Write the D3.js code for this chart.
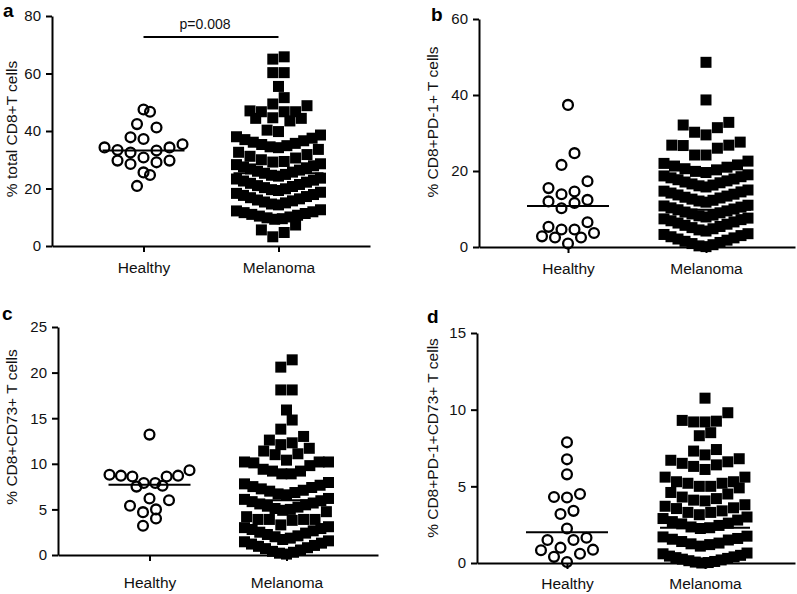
<!DOCTYPE html>
<html>
<head>
<meta charset="utf-8">
<script src="https://cdn.jsdelivr.net/npm/d3@7"></script>
<style>
  html, body { margin: 0; padding: 0; background: #fff; }
  svg { display: block; font-family: "Liberation Sans", Arial, Helvetica, sans-serif; }
</style>
</head>
<body>
<svg id="chart" width="797" height="594"></svg>
<script>
// ---------------- DATA ----------------
const categories = ["Healthy", "Melanoma"];

const aHealthy = [46.7, 47.5, 42.4, 41.2, 37.8, 37.2, 35.4, 34.3, 34.3, 33.4, 32.5, 33.2, 29.7, 29.1, 28.5, 29.7, 30.8, 25.6, 24.7, 20.9];
const aMelanoma = [65.0, 65.8, 60.3, 60.3, 55.5, 51.6, 49.4, 48.8, 47.0, 46.7, 46.7, 46.7, 44.6, 44.4, 44.4, 43.5, 40.3, 39.8,
  34.2, 34.5, 34.9, 35.3, 35.7, 36.1, 36.6, 37.0, 37.5, 38.0, 38.6,
  29.2, 29.4, 30.0, 30.6, 31.2, 31.8, 32.6, 33.6,
  24.3, 24.6, 24.9, 25.3, 25.7, 26.0, 26.4, 26.8, 27.2, 27.5, 27.9, 28.3, 28.6,
  19.3, 19.6, 19.9, 20.3, 20.7, 21.0, 21.4, 21.8, 22.2, 22.6, 22.9, 23.3, 23.6,
  14.3, 14.6, 15.0, 15.3, 15.7, 16.0, 16.4, 16.8, 17.2, 17.6, 17.9, 18.3, 18.7,
  9.3, 9.5, 9.8, 10.1, 10.4, 10.7, 11.0, 11.3, 11.6, 11.9, 12.2, 12.6,
  7.3, 5.6, 4.7, 3.2];

const bHealthy = [37.4, 24.7, 21.6, 17.3, 15.5, 13.9, 14.6, 12.0, 10.2, 11.6, 12.4, 6.5, 5.3, 4.6, 3.7, 4.6, 2.5, 2.5, 2.8, 0.9];
const bMelanoma = [48.6, 38.7, 32.8, 32.1, 31.4, 30.2, 29.5, 27.6, 26.8, 26.8, 26.7, 26.0, 24.2, 24.2,
  19.6, 19.9, 20.3, 20.6, 21.0, 21.3, 21.6, 22.0, 22.6,
  15.8, 16.1, 16.3, 16.6, 16.9, 17.1, 17.4, 17.7, 17.9, 18.2, 18.5, 18.7, 19.0,
  11.8, 12.1, 12.3, 12.6, 12.9, 13.1, 13.4, 13.7, 13.9, 14.2, 14.5, 14.7, 15.0,
  7.9, 8.2, 8.4, 8.7, 9.0, 9.2, 9.5, 9.8, 10.0, 10.3, 10.5, 10.8, 11.0,
  4.2, 4.5, 4.8, 5.1, 5.4, 5.7, 6.0, 6.3, 6.6, 6.9, 7.2, 7.4, 7.6,
  0.1, 0.3, 0.6, 0.9, 1.2, 1.5, 1.8, 2.1, 2.4, 2.7, 3.0, 3.3, 3.5];

const cHealthy = [13.2, 9.3, 8.7, 8.6, 8.6, 8.7, 8.8, 7.9, 7.5, 7.6, 7.9, 6.0, 6.2, 5.4, 5.0, 4.7, 4.0, 3.2];
const cMelanoma = [21.4, 20.6, 18.1, 18.1, 15.9, 14.8, 13.8, 13.0, 12.6, 12.3, 12.1, 11.7, 11.4, 11.0, 11.1, 10.4,
  10.2, 10.2, 10.2, 10.1, 9.8, 9.4, 9.2, 9.2, 8.9, 8.9,
  6.6, 6.7, 6.85, 7.0, 7.1, 7.25, 7.4, 7.5, 7.65, 7.8, 7.95,
  4.9, 5.0, 5.1, 5.25, 5.35, 5.5, 5.6, 5.7, 5.85, 5.95, 6.1, 6.2,
  3.3, 3.8, 3.9, 3.9, 3.9, 3.9, 4.2, 4.75,
  1.7, 1.85, 2.0, 2.1, 2.25, 2.4, 2.5, 2.65, 2.8, 2.9, 3.0, 3.1,
  0.1, 0.2, 0.3, 0.4, 0.55, 0.7, 0.8, 0.95, 1.05, 1.2, 1.3, 1.45, 1.55];

const dHealthy = [7.87, 6.76, 5.78, 4.3, 4.27, 4.5, 3.2, 3.4, 2.25, 1.5, 1.5, 1.65, 0.87, 0.6, 0.07, 0.4, 0.83, 1.0];
const dMelanoma = [10.75, 9.8, 9.2, 9.2, 9.25, 9.3, 8.3, 8.5, 7.05, 7.3, 7.4,
  6.1, 6.3, 6.4, 6.5, 6.6, 6.7, 6.8,
  5.0, 5.0, 5.2, 5.2, 5.3, 5.3, 5.6, 5.6,
  4.05, 4.1, 4.2, 4.3, 4.5, 4.6, 4.9,
  3.15, 3.3, 3.3, 3.4, 3.55, 3.6, 3.7, 3.8,
  2.25, 2.3, 2.35, 2.45, 2.55, 2.6, 2.7, 2.8, 2.9, 3.0,
  1.1, 1.2, 1.25, 1.3, 1.4, 1.5, 1.55, 1.6, 1.7, 1.75,
  0.0, 0.03, 0.06, 0.1, 0.15, 0.2, 0.25, 0.3, 0.35, 0.4, 0.45, 0.5, 0.6, 0.65];

// medians (horizontal lines): [Healthy, Melanoma]
const aMedians = [33.2, 25.3];
const bMedians = [10.8, 9.8];
const cMedians = [7.7, 6.0];
const dMedians = [2.0, 2.3];

const aTicks = [0, 20, 40, 60, 80];
const bTicks = [0, 20, 40, 60];
const cTicks = [0, 5, 10, 15, 20, 25];
const dTicks = [0, 5, 10, 15];

const yTitles = ["% total CD8+T cells", "% CD8+PD-1+ T cells", "% CD8+CD73+ T cells", "% CD8+PD-1+CD73+ T cells"];
const panelLetters = ["a", "b", "c", "d"];
const pValueLabel = "p=0.008";
const pValueLevel = 72.7;

// ---------------- LAYOUT ----------------
const panels = [
  { letter: panelLetters[0], healthy: aHealthy, melanoma: aMelanoma, medians: aMedians, ticks: aTicks, title: yTitles[0],
    left: 52, right: 370, top: 16, bottom: 246, pad: 0.678, labPad: 10,
    letterX: 3, letterY: 17, titleX: 12, titleY: 129, pvalue: true },
  { letter: panelLetters[1], healthy: bHealthy, melanoma: bMelanoma, medians: bMedians, ticks: bTicks, title: yTitles[1],
    left: 479, right: 795, top: 19, bottom: 247, pad: 0.645, labPad: 10,
    letterX: 431, letterY: 21, titleX: 433, titleY: 122 },
  { letter: panelLetters[2], healthy: cHealthy, melanoma: cMelanoma, medians: cMedians, ticks: cTicks, title: yTitles[2],
    left: 58, right: 378, top: 327, bottom: 555, pad: 0.668, labPad: 16,
    letterX: 2, letterY: 320, titleX: 12, titleY: 427 },
  { letter: panelLetters[3], healthy: dHealthy, melanoma: dMelanoma, medians: dMedians, ticks: dTicks, title: yTitles[3],
    left: 477, right: 795, top: 333, bottom: 563, pad: 0.652, labPad: 9,
    letterX: 427, letterY: 323, titleX: 433, titleY: 438 }
];

const ROW_H = 13.4;        // px height of one swarm row
const SQ = 11;             // square size
const CIRCLE_R = 4.9;
const SQ_SPACING = 11.4, SQ_MAXW = 84;
const CI_SPACING = 13, CI_MAXW = 80;

function swarm(values, y, spacing, maxW) {
  const s = values.slice().sort((p, q) => p - q);
  const out = [];
  let i = 0;
  while (i < s.length) {
    const y0 = y(s[i]);
    const row = [];
    while (i < s.length && (y0 - y(s[i])) < ROW_H) { row.push(s[i]); i++; }
    const k = row.length;
    const sp = k > 1 ? Math.min(spacing, maxW / (k - 1)) : 0;
    const slots = d3.range(k).map(j => j - (k - 1) / 2)
      .sort((p, q) => (Math.abs(p) - Math.abs(q)) || (p - q));
    row.forEach((v, j) => out.push({ v, dx: slots[j] * sp }));
  }
  return out;
}

const svg = d3.select("#chart");
svg.append("rect").attr("width", 797).attr("height", 594).attr("fill", "#fff");

panels.forEach(P => {
  const g = svg.append("g");
  const y = d3.scaleLinear().domain([0, d3.max(P.ticks)]).range([P.bottom, P.top]);
  const x = d3.scalePoint().domain(categories).range([P.left, P.right]).padding(P.pad);

  const yAx = g.append("g").attr("transform", `translate(${P.left},0)`)
    .call(d3.axisLeft(y).tickValues(P.ticks).tickSize(6).tickSizeOuter(0).tickPadding(5));
  const xAx = g.append("g").attr("transform", `translate(0,${P.bottom})`)
    .call(d3.axisBottom(x).tickSize(6).tickSizeOuter(0).tickPadding(P.labPad));
  [yAx, xAx].forEach(ax => {
    ax.select(".domain").attr("stroke", "#000").attr("stroke-width", 2);
    ax.selectAll(".tick line").attr("stroke", "#000").attr("stroke-width", 2);
    ax.selectAll(".tick text").attr("fill", "#111").style("font-size", "15.5px")
      .style("font-family", "'Liberation Sans', Arial, sans-serif");
  });
  yAx.selectAll(".tick text").style("font-size", "15px");

  const hx = x("Healthy"), mx = x("Melanoma");
  g.append("g").selectAll("circle")
    .data(swarm(P.healthy, y, CI_SPACING, CI_MAXW))
    .join("circle")
    .attr("cx", d => hx + d.dx)
    .attr("cy", d => y(d.v))
    .attr("r", CIRCLE_R)
    .attr("fill", "none")
    .attr("stroke", "#000")
    .attr("stroke-width", 2.3);

  g.append("g").selectAll("rect")
    .data(swarm(P.melanoma, y, SQ_SPACING, SQ_MAXW))
    .join("rect")
    .attr("x", d => mx + d.dx - SQ / 2)
    .attr("y", d => y(d.v) - SQ / 2)
    .attr("width", SQ)
    .attr("height", SQ)
    .attr("fill", "#000");

  const halfW = [41, 45];
  categories.forEach((c, i) => {
    g.append("line")
      .attr("x1", x(c) - halfW[i]).attr("x2", x(c) + halfW[i])
      .attr("y1", y(P.medians[i])).attr("y2", y(P.medians[i]))
      .attr("stroke", "#000").attr("stroke-width", 2);
  });

  svg.append("text")
    .attr("transform", `translate(${P.titleX},${P.titleY}) rotate(-90)`)
    .attr("text-anchor", "middle")
    .attr("dy", "0.35em")
    .style("font-size", "15.5px")
    .attr("fill", "#111")
    .text(P.title);

  svg.append("text")
    .attr("x", P.letterX).attr("y", P.letterY)
    .style("font-size", "19px").style("font-weight", "bold")
    .attr("fill", "#000")
    .text(P.letter);

  if (P.pvalue) {
    const py = y(pValueLevel);
    g.append("line").attr("x1", hx).attr("x2", mx).attr("y1", py).attr("y2", py)
      .attr("stroke", "#000").attr("stroke-width", 2);
    g.append("text").attr("x", (hx + mx) / 2 - 6).attr("y", py - 8)
      .attr("text-anchor", "middle").style("font-size", "14px").attr("fill", "#111")
      .text(pValueLabel);
  }
});
</script>
</body>
</html>
